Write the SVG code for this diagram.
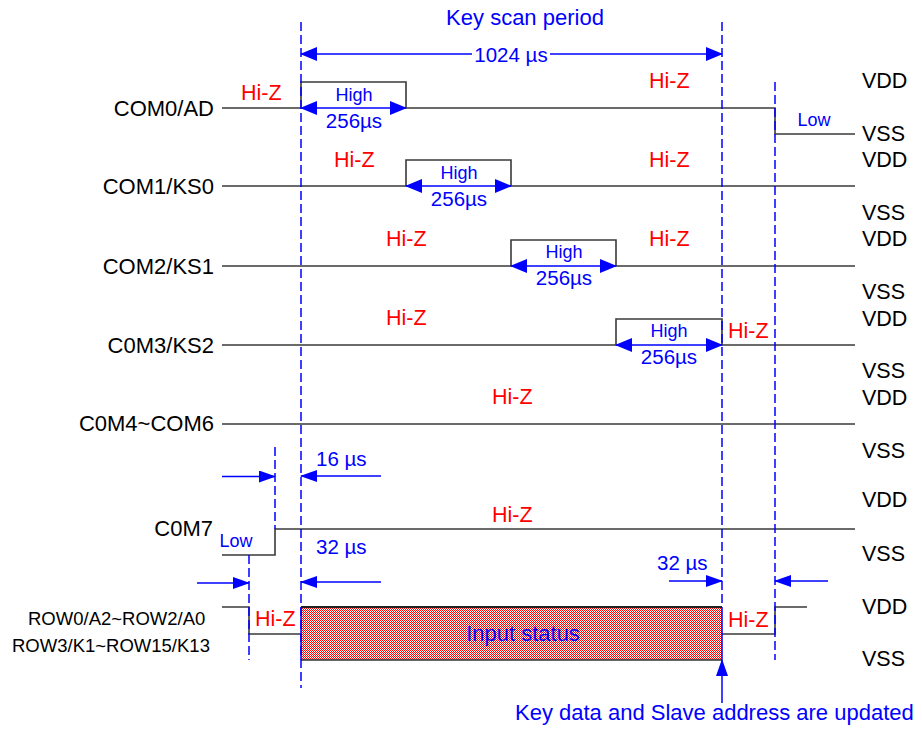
<svg xmlns="http://www.w3.org/2000/svg" width="922" height="730" viewBox="0 0 922 730">
<defs>
<style>
text{font-family:"Liberation Sans",Arial,sans-serif;}
.lbl{font-size:22px;fill:#000;}
.rl{font-size:21.5px;fill:#000;}
.row{font-size:18.5px;fill:#000;}
.hz{font-size:21.5px;fill:#ff0000;}
.bl{font-size:22px;fill:#0000ff;}
.hi{font-size:18px;fill:#0000ff;}
.us{font-size:20.5px;fill:#0000ff;}
.sig{fill:none;stroke:#3a3a3a;stroke-width:1.6;}
.dash{fill:none;stroke:#0000ff;stroke-width:1.5;stroke-dasharray:9 4;}
.arr{fill:none;stroke:#0000ff;stroke-width:1.5;}
</style>
<marker id="ah" viewBox="0 0 17 14" refX="16" refY="7" markerWidth="17" markerHeight="14" markerUnits="userSpaceOnUse" orient="auto-start-reverse">
<path d="M0,0 L17,7 L0,14 z" fill="#0000ff"/>
</marker>
<marker id="ahs" viewBox="0 0 17 12" refX="16" refY="6" markerWidth="17" markerHeight="12" markerUnits="userSpaceOnUse" orient="auto-start-reverse">
<path d="M0,0 L17,6 L0,12 z" fill="#0000ff"/>
</marker>
<pattern id="chk" width="2" height="2" patternUnits="userSpaceOnUse">
<rect width="2" height="2" fill="#ffffff"/>
<rect width="1" height="1" fill="#ff0000"/>
<rect x="1" y="1" width="1" height="1" fill="#ff0000"/>
</pattern>
</defs>
<rect width="922" height="730" fill="#ffffff"/>

<text class="bl" x="525" y="25" text-anchor="middle">Key scan period</text>

<g id="com0">
<text class="lbl" x="214" y="115.5" text-anchor="end">COM0/AD</text>
<path class="sig" d="M222,108 H301 V82 H406 V108 H775 V134 H855"/>
<text class="hz" x="241" y="100">Hi-Z</text>
<text class="hz" x="649" y="88">Hi-Z</text>
<text class="hi" x="354" y="101" text-anchor="middle">High</text>
<text class="us" x="354" y="127.5" text-anchor="middle">256µs</text>
<text class="hi" x="814" y="126" text-anchor="middle">Low</text>
</g>

<g id="com1">
<text class="lbl" x="214" y="194" text-anchor="end">COM1/KS0</text>
<path class="sig" d="M222,186 H406 V160 H511 V186 H855"/>
<text class="hz" x="334" y="167">Hi-Z</text>
<text class="hz" x="649" y="167">Hi-Z</text>
<text class="hi" x="459" y="179" text-anchor="middle">High</text>
<text class="us" x="459" y="206" text-anchor="middle">256µs</text>
</g>

<g id="com2">
<text class="lbl" x="214" y="273.5" text-anchor="end">COM2/KS1</text>
<path class="sig" d="M222,266 H511 V240 H616 V266 H855"/>
<text class="hz" x="386" y="246">Hi-Z</text>
<text class="hz" x="649" y="246">Hi-Z</text>
<text class="hi" x="564" y="258" text-anchor="middle">High</text>
<text class="us" x="564" y="285" text-anchor="middle">256µs</text>
</g>

<g id="com3">
<text class="lbl" x="214" y="352.5" text-anchor="end">C0M3/KS2</text>
<path class="sig" d="M222,345 H616 V319 H722 V345 H855"/>
<text class="hz" x="386" y="325">Hi-Z</text>
<text class="hz" x="728" y="338">Hi-Z</text>
<text class="hi" x="669" y="337" text-anchor="middle">High</text>
<text class="us" x="669" y="364" text-anchor="middle">256µs</text>
</g>

<g id="com4-6">
<text class="lbl" x="214" y="431" text-anchor="end">C0M4~COM6</text>
<path class="sig" d="M222,424 H855"/>
<text class="hz" x="492" y="404">Hi-Z</text>
</g>

<g id="com7">
<text class="lbl" x="213" y="536" text-anchor="end">C0M7</text>
<path class="sig" d="M222,555 H275 V529 H855"/>
<text class="hz" x="492" y="522">Hi-Z</text>
<text class="hi" x="236" y="547" text-anchor="middle">Low</text>
</g>

<g id="row">
<text class="row" x="28" y="625">ROW0/A2~ROW2/A0</text>
<text class="row" x="12" y="652">ROW3/K1~ROW15/K13</text>
<path class="sig" d="M222,607 H249 V634 H301"/>
<path class="sig" d="M722,634 H775 V607 H807"/>
<text class="hz" x="255" y="626">Hi-Z</text>
<text class="hz" x="728" y="627">Hi-Z</text>
</g>

<g id="input-status">
<rect x="301" y="607" width="421" height="53" fill="url(#chk)"/>
<path d="M301,607 H722" stroke="#222" stroke-width="2" fill="none"/>
<path d="M301,660 H722" stroke="#333" stroke-width="1.5" fill="none"/>
<path d="M301,607 V660 M722,607 V660" stroke="#0000ff" stroke-width="1.5" fill="none"/>
<text class="bl" x="523" y="641" text-anchor="middle">Input status</text>
</g>

<g id="levels">
<text class="rl" x="862" y="88">VDD</text>
<text class="rl" x="862" y="141">VSS</text>
<text class="rl" x="862" y="167">VDD</text>
<text class="rl" x="862" y="220">VSS</text>
<text class="rl" x="862" y="246">VDD</text>
<text class="rl" x="862" y="299">VSS</text>
<text class="rl" x="862" y="326">VDD</text>
<text class="rl" x="862" y="378">VSS</text>
<text class="rl" x="862" y="405">VDD</text>
<text class="rl" x="862" y="458">VSS</text>
<text class="rl" x="862" y="507">VDD</text>
<text class="rl" x="862" y="561">VSS</text>
<text class="rl" x="862" y="614">VDD</text>
<text class="rl" x="862" y="666">VSS</text>
</g>

<g id="connectors">
<path class="dash" d="M301,22 V688"/>
<path class="dash" d="M722,22 V607"/>
<path class="dash" d="M775,82 V660"/>
<path class="dash" d="M275,447 V529"/>
<path class="dash" d="M249,555 V660"/>

<path class="arr" d="M301,54 H472" marker-start="url(#ah)"/>
<path class="arr" d="M550,54 H722" marker-end="url(#ah)"/>
<text class="us" x="511" y="61.5" text-anchor="middle">1024 µs</text>

<path class="arr" d="M301,108 H406" marker-start="url(#ah)" marker-end="url(#ah)"/>
<path class="arr" d="M406,186 H511" marker-start="url(#ah)" marker-end="url(#ah)"/>
<path class="arr" d="M511,266 H616" marker-start="url(#ah)" marker-end="url(#ah)"/>
<path class="arr" d="M616,345 H722" marker-start="url(#ah)" marker-end="url(#ah)"/>

<path class="arr" d="M222,476.5 H275" marker-end="url(#ahs)"/>
<path class="arr" d="M381,476 H301" marker-end="url(#ahs)"/>
<text class="us" x="316" y="466">16 µs</text>

<path class="arr" d="M197,583 H249" marker-end="url(#ahs)"/>
<path class="arr" d="M381,582 H301" marker-end="url(#ahs)"/>
<text class="us" x="316" y="554">32 µs</text>

<path class="arr" d="M669,581 H722" marker-end="url(#ahs)"/>
<path class="arr" d="M828,581 H775" marker-end="url(#ahs)"/>
<text class="us" x="657" y="570">32 µs</text>

<path class="arr" d="M722,703 V660" marker-end="url(#ahs)"/>
<text class="bl" x="515" y="720">Key data and Slave address are updated</text>
</g>
</svg>
